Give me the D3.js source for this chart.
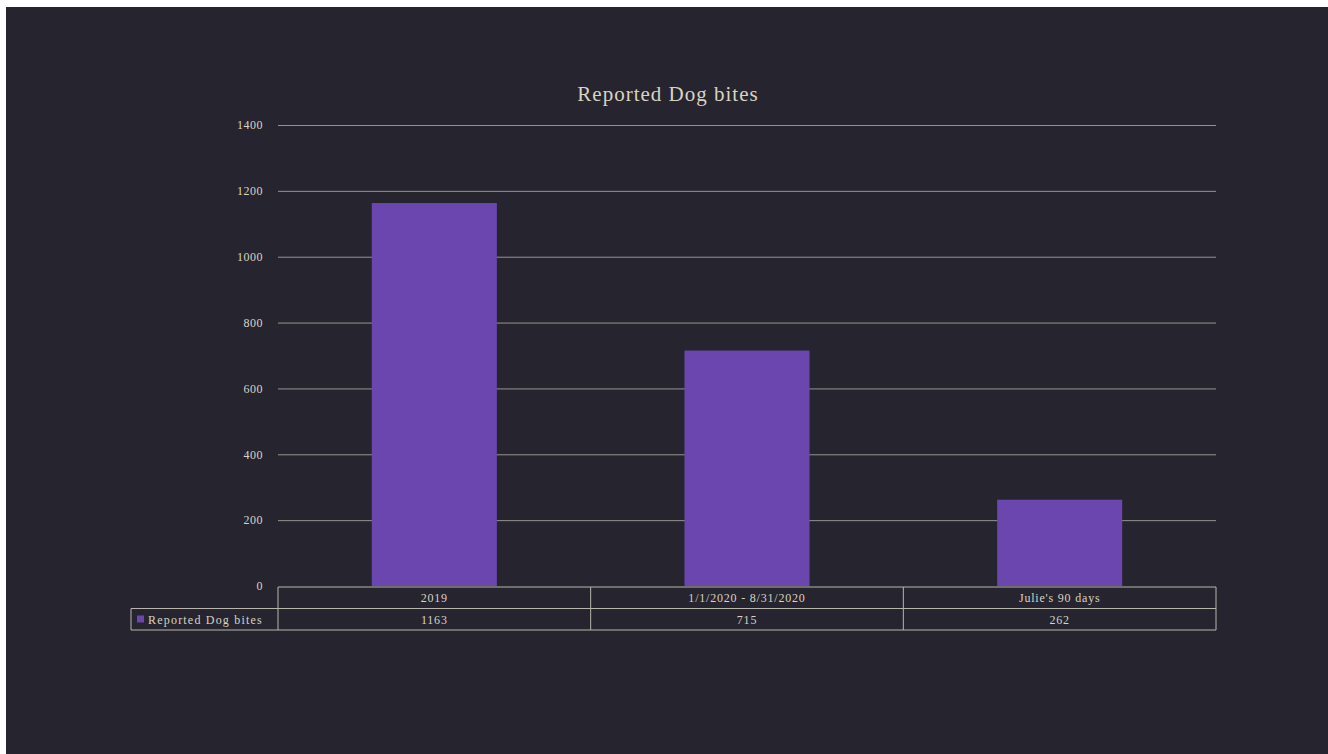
<!DOCTYPE html>
<html><head><meta charset="utf-8">
<script src="https://cdn.jsdelivr.net/npm/d3@7"></script>
<style>
html,body{margin:0;padding:0;background:#ffffff;}
svg{display:block;}
</style></head>
<body>
<script>
const categories = ["2019", "1/1/2020 - 8/31/2020", "Julie's 90 days"];
const values = [1163, 715, 262];
const seriesName = "Reported Dog bites";
const yTicks = [0, 200, 400, 600, 800, 1000, 1200, 1400];
const title = "Reported Dog bites";

(function () {
const W = 1328, H = 754;
const svg = d3.select("body").append("svg").attr("width", W).attr("height", H);
svg.append("rect").attr("x", 6).attr("y", 7).attr("width", W - 6).attr("height", H - 7).attr("fill", "#26252f");

const pl = 278, pr = 1216, pt = 125, pb = 586;
const textColor = "#d9d3c2";
const font = "'Liberation Serif', 'DejaVu Serif', serif";

const x = d3.scaleBand().domain(categories).range([pl, pr]).paddingInner(0.6).paddingOuter(0.3);
const xb = d3.scaleBand().domain(categories).range([pl, pr]);
const y = d3.scaleLinear().domain([0, 1400]).range([pb, pt]);

// gridlines
const yAxis = d3.axisLeft(y).tickValues(yTicks).tickSize(-(pr - pl)).tickPadding(15).tickFormat(d3.format("d"));
const ga = svg.append("g").attr("transform", `translate(${pl},0)`).call(yAxis);
ga.select(".domain").remove();
ga.selectAll(".tick line").attr("stroke", "#a9a7a0").attr("stroke-width", 1)
  .attr("opacity", d => d === 0 ? 0 : 0.85);
ga.selectAll(".tick text").attr("fill", textColor).attr("font-family", font).attr("font-size", 12)
  .attr("letter-spacing", 0.5);

// bars
svg.append("g").selectAll("rect").data(values).join("rect")
  .attr("x", (d, i) => x(categories[i]))
  .attr("width", x.bandwidth())
  .attr("y", d => y(d))
  .attr("height", d => y(0) - y(d))
  .attr("fill", "#6a46ae");

// title
svg.append("text").attr("x", 668).attr("y", 101).attr("text-anchor", "middle")
  .attr("fill", textColor).attr("font-family", font).attr("font-size", 21)
  .attr("letter-spacing", 1).text(title);

// data table
const rowH = 21.5;
const r1 = pb + 1, r2 = r1 + rowH, r3 = r2 + rowH;
const legendLeft = 131;
const tbl = svg.append("g").attr("stroke", "#b8b5ac").attr("stroke-width", 1).attr("fill", "none");
tbl.append("line").attr("x1", pl).attr("x2", pr).attr("y1", r1).attr("y2", r1);
tbl.append("line").attr("x1", legendLeft).attr("x2", pr).attr("y1", r2).attr("y2", r2);
tbl.append("line").attr("x1", legendLeft).attr("x2", pr).attr("y1", r3).attr("y2", r3);
tbl.append("line").attr("x1", legendLeft).attr("x2", legendLeft).attr("y1", r2).attr("y2", r3);
const edges = [pl, ...categories.map(c => xb(c) + xb.bandwidth())];
edges.forEach(e => tbl.append("line").attr("x1", e).attr("x2", e).attr("y1", r1).attr("y2", r3));

svg.append("g").selectAll("text").data(categories).join("text")
  .attr("x", d => xb(d) + xb.bandwidth() / 2).attr("y", r1 + 15)
  .attr("text-anchor", "middle").attr("fill", textColor).attr("font-family", font).attr("font-size", 12)
  .attr("letter-spacing", 0.8).text(d => d);
svg.append("g").selectAll("text").data(values).join("text")
  .attr("x", (d, i) => xb(categories[i]) + xb.bandwidth() / 2).attr("y", r2 + 15)
  .attr("text-anchor", "middle").attr("fill", textColor).attr("font-family", font).attr("font-size", 12)
  .attr("letter-spacing", 0.8).text(d => d);
svg.append("rect").attr("x", legendLeft + 6).attr("y", r2 + 7).attr("width", 7).attr("height", 7).attr("fill", "#6a46ae");
svg.append("text").attr("x", legendLeft + 17).attr("y", r2 + 15).attr("fill", textColor)
  .attr("font-family", font).attr("font-size", 12).attr("letter-spacing", 1.2).text(seriesName);
})();
</script>
</body></html>
